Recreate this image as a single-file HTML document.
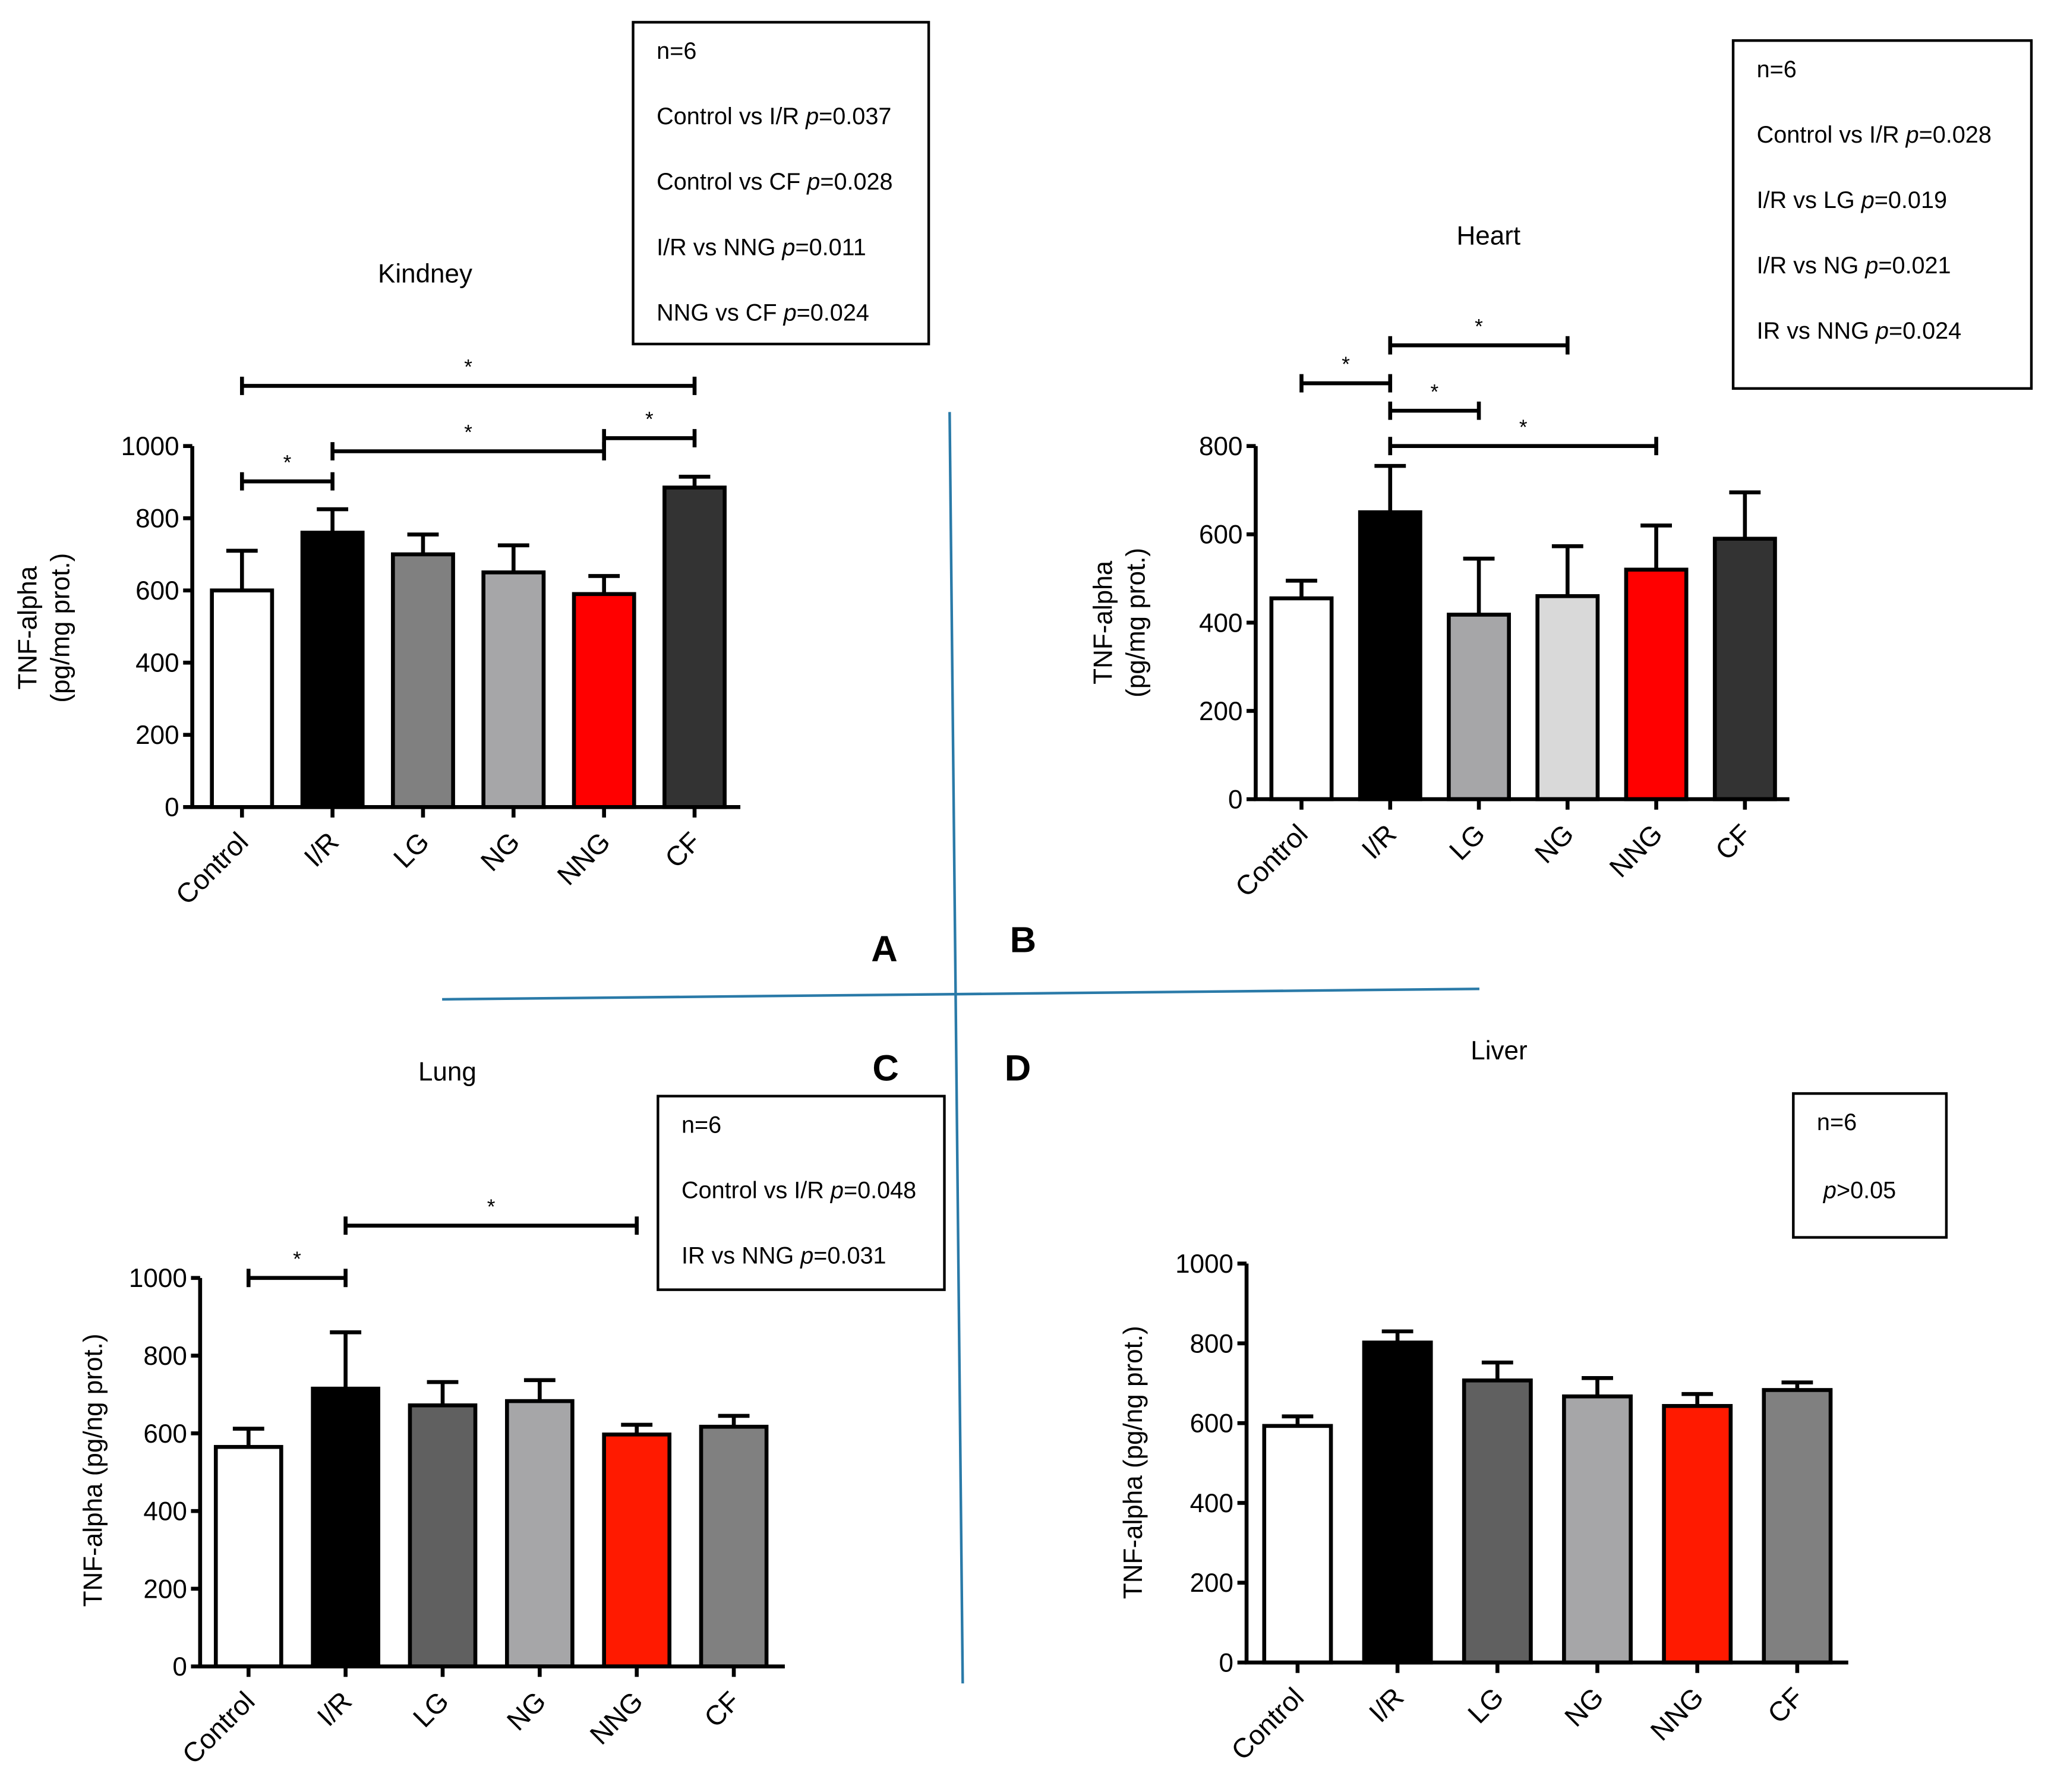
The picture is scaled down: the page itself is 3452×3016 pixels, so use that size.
<!DOCTYPE html>
<html><head><meta charset="utf-8"><style>
html,body{margin:0;padding:0;background:#fff}
svg{display:block}
text{font-family:"Liberation Sans",Arial,sans-serif;fill:#000}
</style></head><body>
<svg id="fig" width="3452" height="3016" viewBox="0 0 1568 1370" preserveAspectRatio="none" xmlns="http://www.w3.org/2000/svg">
<rect width="1568" height="1370" fill="#fff"/>
<g stroke="#2a7aa8" stroke-width="2" fill="none">
<line x1="726" y1="315" x2="736" y2="1287"/>
<line x1="338" y1="764" x2="1131" y2="756"/>
</g>
<g font-weight="bold" font-size="28">
<text x="666" y="735">A</text>
<text x="772" y="728">B</text>
<text x="667" y="826">C</text>
<text x="768" y="826">D</text>
</g>
</svg>
<script>
const categories = ["Control","I/R","LG","NG","NNG","CF"];
const kidneyMeans = [600, 760, 700, 650, 590, 885];
const kidneyErr = [110, 65, 55, 75, 50, 30];
const heartMeans = [455, 650, 418, 460, 520, 590];
const heartErr = [40, 105, 127, 113, 100, 105];
const lungMeans = [565, 715, 672, 683, 597, 617];
const lungErr = [47, 145, 60, 54, 25, 28];
const liverMeans = [593, 802, 707, 667, 643, 683];
const liverErr = [24, 28, 45, 46, 30, 19];
const kidneyTicks = [0,200,400,600,800,1000];
const heartTicks = [0,200,400,600,800];
const lungTicks = [0,200,400,600,800,1000];
const liverTicks = [0,200,400,600,800,1000];

const NS = "http://www.w3.org/2000/svg";
const svg = document.getElementById("fig");
function mk(tag, attrs, parent, txt){
  const e = document.createElementNS(NS, tag);
  for (const k in attrs) e.setAttribute(k, attrs[k]);
  if (txt !== undefined) e.textContent = txt;
  (parent||svg).appendChild(e);
  return e;
}

function panel(p){
  const g = mk("g", {});
  
  
  const ys = v => p.y0 - (v/p.ymax)*(p.y0-p.ytop);
  const xs = i => p.x0 + p.first + i*p.step;
  p.means.forEach((m,i)=>{
    const x = xs(i), y = ys(m), yt = ys(m+p.err[i]);
    const eb = mk("path",{d:`M${x} ${y} V${yt} M${x-12} ${yt} H${x+12}`,stroke:"#000","stroke-width":3,fill:"none"},g);
    
    
    const r = mk("rect",{x:x-p.bw/2,y:y,width:p.bw,height:p.y0-y,fill:p.colors[i],stroke:"#000","stroke-width":3},g);
    
    
  });
  const ax = mk("path",{d:`M${p.x0} ${p.ytop} V${p.y0} H${p.xend}`,stroke:"#000","stroke-width":3,fill:"none"},g);
  
  
  p.ticks.forEach(t=>{
    const y = ys(t);
    mk("line",{x1:p.x0-7,y1:y,x2:p.x0,y2:y,stroke:"#000","stroke-width":3},g);
    const tl = mk("text",{x:p.x0-10,y:y+7,"text-anchor":"end","font-size":20},g,String(t));
    
    
  });
  categories.forEach((c,i)=>{
    const x = xs(i);
    mk("line",{x1:x,y1:p.y0,x2:x,y2:p.y0+8,stroke:"#000","stroke-width":3},g);
    const tl = mk("text",{x:x+6,y:p.y0+28,"text-anchor":"end","font-size":21,transform:`rotate(-45 ${x+6} ${p.y0+28})`},g,c);
    
    
  });
  const cy = p.ylabelY;
  p.ylabel.forEach((l,k)=>{
    const lx = p.ylabelX + k*25;
    const yl = mk("text",{x:lx,y:cy,"text-anchor":"middle","font-size":20,transform:`rotate(-90 ${lx} ${cy})`},g,l);
    
    
  });
  const tt = mk("text",{x:p.title[1],y:p.title[2],"text-anchor":"middle","font-size":20},g,p.title[0]);
  
  
  p.brackets.forEach(b=>{
    const [a,c,y] = b;
    const x1 = xs(a), x2 = xs(c);
    const br = mk("path",{d:`M${x1} ${y-7} V${y+7} M${x1} ${y} H${x2} M${x2} ${y-7} V${y+7}`,stroke:"#000","stroke-width":3,fill:"none"},g);
    
    
    const st = mk("text",{x:(x1+x2)/2,y:y-9,"text-anchor":"middle","font-size":16},g,"*");
    
    
  });
  const [bx,by,bw,bh] = p.box;
  const lb = mk("rect",{x:bx,y:by,width:bw,height:bh,fill:"#fff",stroke:"#000","stroke-width":2},g);
  
  
  p.lines.forEach((l,k)=>{
    const t = mk("text",{x:bx+18,y:by+28+k*50,"font-size":18},g);
    
    
    mk("tspan",{},t,l[0]);
    if (l[1]) {
      mk("tspan",{"font-style":"italic"},t,"p");
      mk("tspan",{},t,l[1]);
    }
  });
}

panel({name:"kidney-chart",x0:147,xend:566,y0:617,ytop:341,ymax:1000,first:38,step:69.2,bw:46,
  means:kidneyMeans,err:kidneyErr,ticks:kidneyTicks,
  colors:["#fff","#000","#808080","#a6a6a8","#ff0000","#333"],
  ylabel:["TNF-alpha","(pg/mg prot.)"],ylabelX:28,ylabelY:480,title:["Kindney",325,216],
  brackets:[[0,1,368],[0,5,295],[1,4,345],[4,5,335]],
  box:[484,17,226,246],lines:[["n=6",""],["Control vs I/R ","=0.037"],["Control vs CF ","=0.028"],["I/R vs NNG ","=0.011"],["NNG vs CF ","=0.024"]]});
panel({name:"heart-chart",x0:960,xend:1368,y0:611,ytop:341,ymax:800,first:35,step:67.8,bw:46,
  means:heartMeans,err:heartErr,ticks:heartTicks,
  colors:["#fff","#000","#a6a6a8","#d9d9d9","#ff0000","#333"],
  ylabel:["TNF-alpha","(pg/mg prot.)"],ylabelX:850,ylabelY:476,title:["Heart",1138,187],
  brackets:[[0,1,293],[1,3,264],[1,2,314],[1,4,341]],
  box:[1325,31,228,266],lines:[["n=6",""],["Control vs I/R ","=0.028"],["I/R vs LG ","=0.019"],["I/R vs NG ","=0.021"],["IR vs NNG ","=0.024"]]});
panel({name:"lung-chart",x0:153,xend:600,y0:1274,ytop:977,ymax:1000,first:37,step:74.2,bw:50,
  means:lungMeans,err:lungErr,ticks:lungTicks,
  colors:["#fff","#000","#606060","#a6a6a8","#ff1a00","#808080"],
  ylabel:["TNF-alpha (pg/ng prot.)"],ylabelX:78,ylabelY:1124,title:["Lung",342,826],
  brackets:[[0,1,977],[1,4,937]],
  box:[503,838,219,148],lines:[["n=6",""],["Control vs I/R ","=0.048"],["IR vs NNG ","=0.031"]]});
panel({name:"liver-chart",x0:953,xend:1413,y0:1271,ytop:966,ymax:1000,first:39,step:76.4,bw:51,
  means:liverMeans,err:liverErr,ticks:liverTicks,
  colors:["#fff","#000","#606060","#a6a6a8","#ff1a00","#808080"],
  ylabel:["TNF-alpha (pg/ng prot.)"],ylabelX:873,ylabelY:1118,title:["Liver",1146,810],
  brackets:[],
  box:[1371,836,117,110],lines:[["n=6",""]]});
const pt = mk("text",{x:1394,y:916,"font-size":18});


mk("tspan",{"font-style":"italic"},pt,"p");
mk("tspan",{},pt,">0.05");
</script>
</body></html>
